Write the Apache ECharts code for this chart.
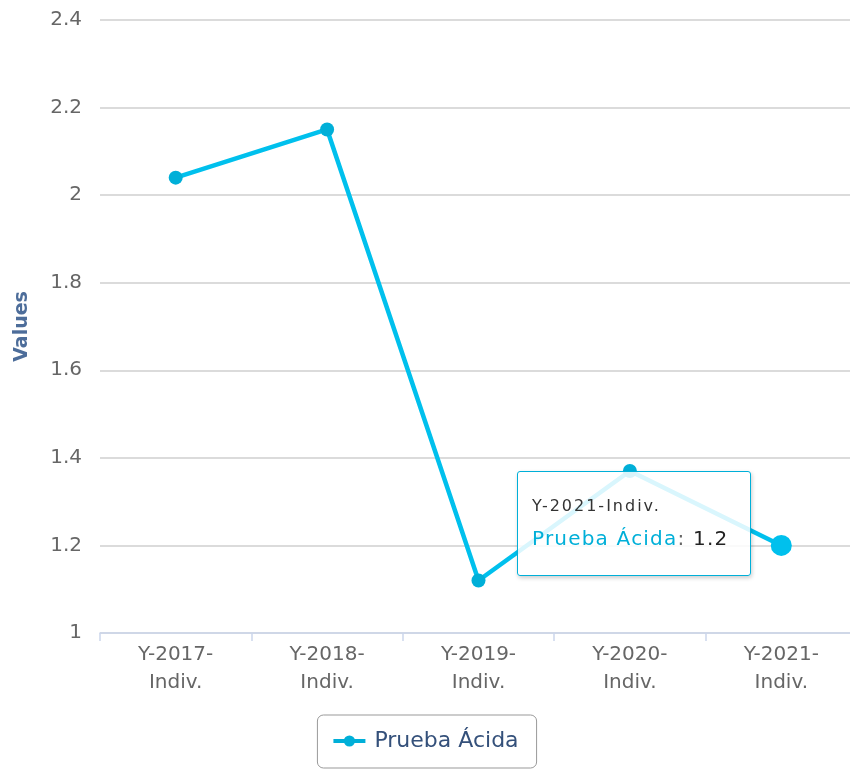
<!DOCTYPE html>
<html>
<head>
<meta charset="utf-8">
<script src="https://cdn.jsdelivr.net/npm/echarts@6/dist/echarts.min.js"></script>
<style>
html, body { margin: 0; padding: 0; background: #fff; }
#main { width: 850px; height: 770px; }
</style>
</head>
<body>
<div id="main"></div>
<script>
var categories = ['Y-2017-Indiv.', 'Y-2018-Indiv.', 'Y-2019-Indiv.', 'Y-2020-Indiv.', 'Y-2021-Indiv.']
var seriesName = 'Prueba Ácida'
var seriesValues = [2.04, 2.15, 1.12, 1.37, 1.2]
var yMin = 1
var yMax = 2.4
var yStep = 0.2

var font = '"DejaVu Sans", sans-serif'
var cssFont = "'DejaVu Sans', sans-serif"
var lineColor = '#00afd8'

var chart = echarts.init(document.getElementById('main'))
chart.setOption({
	animation: false,
	textStyle: { fontFamily: font },
	grid: { left: 100, width: 757, top: 20, height: 613, outerBoundsMode: 'none', containLabel: false },
	tooltip: {
		trigger: 'item',
		alwaysShowContent: true,
		transitionDuration: 0,
		backgroundColor: 'rgba(255,255,255,0.85)',
		borderColor: lineColor,
		borderWidth: 1.5,
		borderRadius: 3,
		padding: [22, 14, 22, 14],
		extraCssText: 'box-shadow: 1px 2px 4px rgba(0,0,0,0.2); width: 204px;',
		position: function () {
			return [517, 471]
		},
		formatter: function (p) {
			return '<div style="font-family:' + cssFont + ';font-size:16px;letter-spacing:2px;color:#333;line-height:24px;white-space:nowrap;">' + p.name + '</div>' +
				'<div style="font-family:' + cssFont + ';font-size:20px;letter-spacing:1.2px;line-height:30px;margin-top:5px;white-space:nowrap;">' +
				'<span style="color:' + lineColor + '">' + p.seriesName + '</span>' +
				'<span style="color:#666">: </span>' +
				'<span style="color:#222">' + p.value + '</span></div>'
		}
	},
	legend: {
		data: [seriesName],
		left: 'center',
		top: 715,
		borderColor: '#999',
		borderWidth: 1,
		borderRadius: 6,
		padding: [15, 18, 16, 14],
		itemWidth: 32,
		itemHeight: 14,
		itemGap: 10,
		lineStyle: { width: 4 },
		textStyle: { color: '#34507a', fontSize: 22, fontFamily: font, padding: [0, 0, 0, 4] }
	},
	xAxis: {
		type: 'category',
		data: categories,
		boundaryGap: true,
		axisLine: { lineStyle: { color: '#ccd6eb', width: 1.5 } },
		axisTick: { show: true, length: 8, lineStyle: { color: '#ccd6eb', width: 1.5 } },
		axisLabel: {
			color: '#666',
			fontSize: 20,
			lineHeight: 28,
			margin: 8,
			formatter: function (v) {
				return v.replace('-Indiv.', '-\nIndiv.')
			}
		}
	},
	yAxis: {
		type: 'value',
		min: yMin,
		max: yMax,
		interval: yStep,
		name: 'Values',
		nameLocation: 'middle',
		nameGap: 68,
		nameRotate: 90,
		nameTextStyle: { color: '#4d6d9a', fontSize: 19, fontWeight: 'bold' },
		axisLine: { show: false },
		axisTick: { show: false },
		axisLabel: { color: '#666', fontSize: 20, margin: 18 },
		splitLine: { lineStyle: { color: '#cfcfcf', width: 1.5 } }
	},
	series: [{
		name: seriesName,
		type: 'line',
		data: seriesValues,
		symbol: 'circle',
		symbolSize: 14,
		itemStyle: { color: lineColor },
		lineStyle: { color: lineColor, width: 4.5 },
		emphasis: { scale: 1.5, lineStyle: { width: 4.5 } }
	}]
})

chart.dispatchAction({ type: 'highlight', seriesIndex: 0, dataIndex: 4 })
chart.dispatchAction({ type: 'showTip', seriesIndex: 0, dataIndex: 4 })
</script>
</body>
</html>
